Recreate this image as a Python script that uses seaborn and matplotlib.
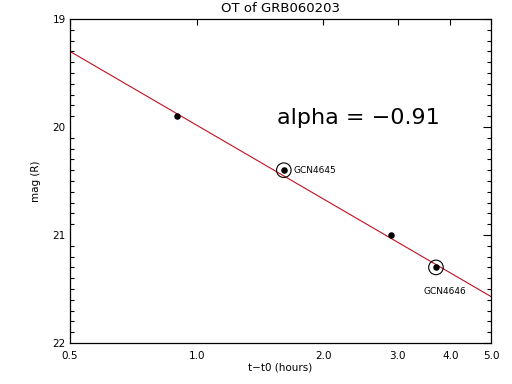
import matplotlib
matplotlib.use("Agg")
import matplotlib.pyplot as plt
import seaborn as sns
import pandas as pd
from matplotlib.ticker import FixedLocator, FixedFormatter, MultipleLocator, NullLocator

# Observed optical transient points (t - t0 in hours, R magnitude)
t_hours = [0.90, 1.61, 2.90, 3.70]
mag_r = [19.90, 20.40, 21.00, 21.30]
gcn_labels = ["", "GCN4645", "", "GCN4646"]

# Power-law fit drawn across the full range
fit_t = [0.5, 5.0]
fit_mag = [19.30, 21.57]

x_ticks = [0.5, 1.0, 2.0, 3.0, 4.0, 5.0]
x_tick_labels = ["0.5", "1.0", "2.0", "3.0", "4.0", "5.0"]
y_ticks = [19, 20, 21, 22]

df = pd.DataFrame({"t": t_hours, "mag": mag_r, "gcn": gcn_labels})
fit_df = pd.DataFrame({"t": fit_t, "mag": fit_mag})

sns.set_theme(style="white")
plt.rcParams['font.family'] = ['DejaVu Sans']
plt.rcParams['text.color'] = 'black'
plt.rcParams['axes.labelcolor'] = 'black'
plt.rcParams['xtick.color'] = 'black'
plt.rcParams['ytick.color'] = 'black'

fig = plt.figure(figsize=(5.12, 3.84), dpi=100)
ax = fig.add_axes([70 / 512, 41 / 384, 421 / 512, 324 / 384])

sns.lineplot(data=fit_df, x="t", y="mag", color="#c01020", linewidth=0.8, ax=ax)
sns.scatterplot(data=df, x="t", y="mag", color="black", s=22, edgecolor="black",
                linewidth=0, ax=ax, zorder=3)

# open circles around the GCN points
gcn_df = df[df["gcn"] != ""]
ax.scatter(gcn_df["t"], gcn_df["mag"], s=110, facecolors="none", edgecolors="black",
           linewidths=0.8, zorder=3)
for _, row in gcn_df.iterrows():
    if row["gcn"] == "GCN4645":
        ax.text(row["t"] * 1.055, row["mag"], row["gcn"], fontsize=6.5,
                ha="left", va="center")
    else:
        ax.text(row["t"] * 1.048, row["mag"] + 0.22, row["gcn"], fontsize=6.5,
                ha="center", va="center")

ax.text(0.685, 0.695, "alpha = \u22120.91", transform=ax.transAxes, fontsize=16,
        ha="center", va="center", color="black")

ax.set_xscale("log")
ax.set_xlim(0.5, 5.0)
ax.set_ylim(22, 19)
ax.xaxis.set_major_locator(FixedLocator(x_ticks))
ax.xaxis.set_major_formatter(FixedFormatter(x_tick_labels))
ax.xaxis.set_minor_locator(NullLocator())
ax.yaxis.set_major_locator(FixedLocator(y_ticks))
ax.yaxis.set_minor_locator(MultipleLocator(0.1))

ax.tick_params(axis="x", which="major", direction="in", top=True, length=4,
               width=0.8, labelsize=7.5, pad=6)
ax.tick_params(axis="y", which="major", direction="in", right=True, length=6,
               width=0.8, labelsize=7.5, pad=3)
ax.tick_params(axis="y", which="minor", direction="in", right=True, left=True,
               length=3, width=0.8)
for spine in ax.spines.values():
    spine.set_color("black")
    spine.set_linewidth(0.9)

ax.set_title("OT of GRB060203", fontsize=9.5, pad=5)
ax.set_xlabel("t\u2212t0 (hours)", fontsize=7.5, labelpad=1)
ax.set_ylabel("mag (R)", fontsize=7.5, labelpad=8)
ax.grid(False)

fig.savefig("out.png", dpi=100)
